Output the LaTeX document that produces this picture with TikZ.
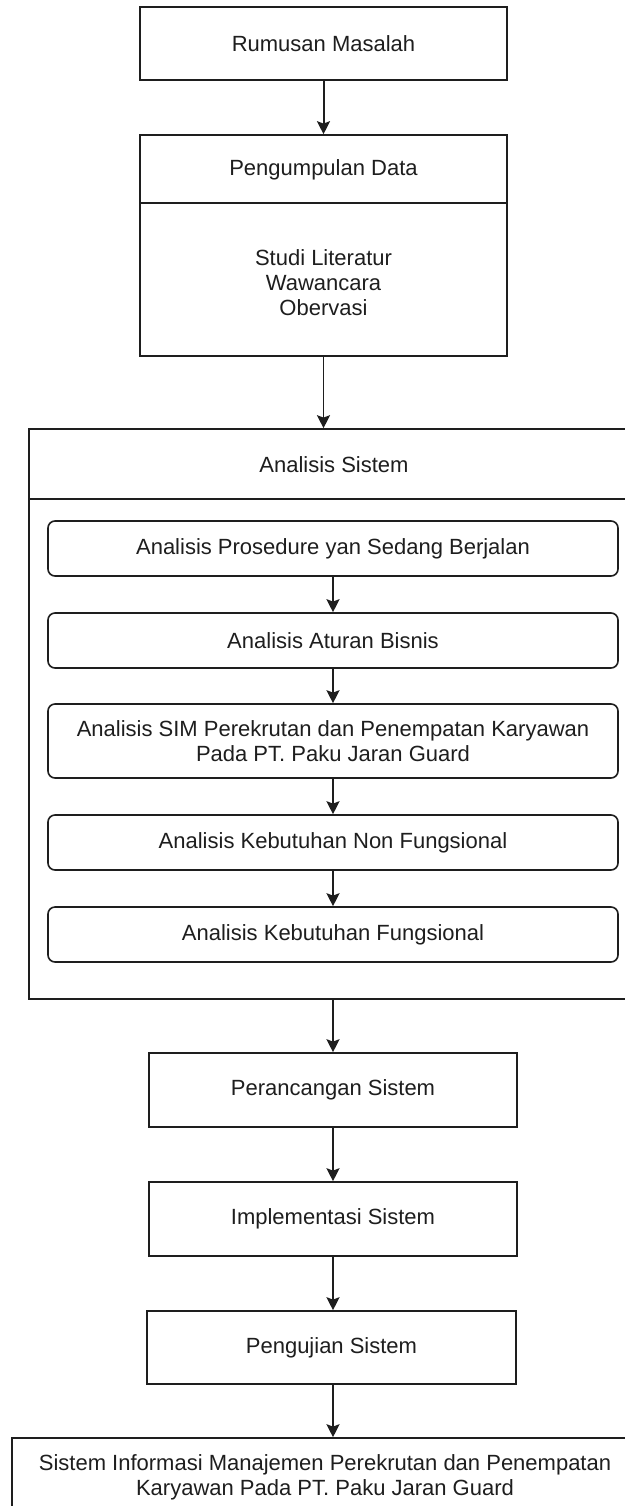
\documentclass[tikz,border=0pt]{standalone}
\usepackage{fontspec}
\setmainfont{Liberation Sans}
\usetikzlibrary{arrows.meta}
\definecolor{ink}{HTML}{1E1E1E}
\tikzset{
  box/.style={draw=ink, line width=0.8pt, rectangle, minimum width=183.5pt, minimum height=36.5pt, inner sep=0pt, align=center},
  rbox/.style={draw=ink, line width=0.8pt, rectangle, rounded corners=3.5pt, minimum width=285pt, minimum height=27.5pt, inner sep=0pt, align=center},
  lbl/.style={inner sep=0pt, align=center, text=ink},
  arr/.style={draw=ink, line width=0.8pt, -{Stealth[length=6.5pt,width=6.5pt,inset=1.2pt]}},
  every node/.style={font=\fontsize{11}{12.5}\selectfont, text=ink}
}
\begin{document}
\begin{tikzpicture}[x=0.5pt,y=-0.5pt]
\useasboundingbox (0,0) rectangle (625,1506);
\clip (0,0) rectangle (625,1506);
\fill[white] (0,0) rectangle (625,1506);
% top
\node[box] (rum) at (323.5,43.5) {Rumusan Masalah};
\node[box, minimum height=110.5pt] (peng) at (323.5,245.5) {};
\draw[ink, line width=0.8pt] (140,203) -- (507,203);
\node[lbl] (pengT) at (323.5,170) {Pengumpulan Data};
\node[lbl] (pengB) at (323.5,283) {Studi Literatur\\Wawancara\\Obervasi};
\draw[arr, line width=1pt] (rum) -- (peng);
% container
\node[box, minimum width=305pt, minimum height=285pt] (sys) at (334,714) {};
\draw[ink, line width=0.8pt] (29,499) -- (639,499);
\node[lbl] (sysT) at (334,465) {Analisis Sistem};
\draw[arr] (peng.south) -- (peng.south |- sys.north);
% inner
\node[rbox] (b1) at (333,548.5) {Analisis Prosedure yan Sedang Berjalan};
\node[rbox] (b2) at (333,640.5) {Analisis Aturan Bisnis};
\node[rbox, minimum height=37pt] (b3) at (333,741) {Analisis SIM Perekrutan dan Penempatan Karyawan\\Pada PT. Paku Jaran Guard};
\node[rbox] (b4) at (333,842.5) {Analisis Kebutuhan Non Fungsional};
\node[rbox] (b5) at (333,934.5) {Analisis Kebutuhan Fungsional};
\draw[arr, line width=1pt] (b1) -- (b2);
\draw[arr] (b2) -- (b3);
\draw[arr] (b3) -- (b4);
\draw[arr] (b4) -- (b5);
% lower
\node[box, minimum width=184pt, minimum height=37pt] (per) at (333,1090) {Perancangan Sistem};
\node[box, minimum width=184pt, minimum height=37pt] (imp) at (333,1219) {Implementasi Sistem};
\node[box, minimum width=184.5pt, minimum height=36.5pt] (uji) at (331.5,1347.5) {Pengujian Sistem};
\node[box, minimum width=313pt, minimum height=39.5pt] (out) at (325,1477.5) {Sistem Informasi Manajemen Perekrutan dan Penempatan\\Karyawan Pada PT. Paku Jaran Guard};
\draw[arr] (sys.south -| per.north) -- (per.north);
\draw[arr] (per) -- (imp);
\draw[arr] (imp.south -| 333,0) -- (uji.north -| 333,0);
\draw[arr] (uji.south -| 333,0) -- (out.north -| 333,0);
\end{tikzpicture}
\end{document}
